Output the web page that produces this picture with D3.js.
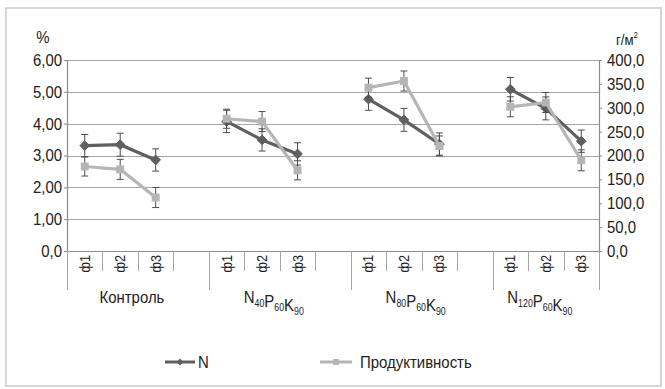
<!DOCTYPE html>
<html>
<head>
<meta charset="utf-8">
<script src="https://cdn.jsdelivr.net/npm/d3@7/dist/d3.min.js"></script>
<style>
  html, body { margin: 0; padding: 0; background: #fff; }
  svg { display: block; }
  text { font-family: "Liberation Sans", Arial, sans-serif; fill: #222; }
</style>
</head>
<body>
<svg id="chart" width="665" height="389"></svg>
<script>
// ---------- data ----------
const groupNames = ["Контроль", "N40P60K90", "N80P60K90", "N120P60K90"];
const groupLabelParts = [
  [["Контроль", ""]],
  [["N", "40"], ["P", "60"], ["K", "90"]],
  [["N", "80"], ["P", "60"], ["K", "90"]],
  [["N", "120"], ["P", "60"], ["K", "90"]]
];
const phaseLabels = ["ф1", "ф2", "ф3"];
const seriesNames = ["N", "Продуктивность"];
const nValues    = [3.31, 3.34, 2.86, 4.07, 3.49, 3.05, 4.77, 4.12, 3.36, 5.08, 4.48, 3.45];
const nErrors    = [0.35, 0.36, 0.35, 0.35, 0.35, 0.35, 0.35, 0.36, 0.35, 0.37, 0.36, 0.35];
const prodValues = [177, 171, 112, 277, 271, 169, 342, 356, 220, 302, 311, 190];
const prodErrors = [20, 21, 21, 20, 21, 20, 20, 21, 21, 21, 21, 22];
const leftTicks  = [0, 1, 2, 3, 4, 5, 6];
const leftTickLabels  = ["0,0", "1,00", "2,00", "3,00", "4,00", "5,00", "6,00"];
const rightTicks = [0, 50, 100, 150, 200, 250, 300, 350, 400];
const rightTickLabels = ["0,0", "50,0", "100,0", "150,0", "200,0", "250,0", "300,0", "350,0", "400,0"];
const leftUnit = "%";
const rightUnit = "г/м";

// ---------- layout ----------
const svg = d3.select("#chart");
const plot = { left: 67, right: 599, top: 60, bottom: 251 };
const darkColor = "#5f5f5f";
const lightColor = "#b5b5b5";
const errColor = "#4d4d4d";
const gridColor = "#a6a6a6";
const SX = 0.88;          // horizontal condensing of text (narrow font look)
const FS = 17;

// condense text horizontally around its anchor x
function condense(sel) {
  sel.each(function () {
    const el = d3.select(this);
    const ax = +(el.attr("x") || 0);
    const prev = el.attr("transform") || "";
    el.attr("transform", `${prev} translate(${ax},0) scale(${SX},1) translate(${-ax},0)`);
  });
}

// slots: 3 phases per group, with an empty slot between groups
const slots = [];
groupNames.forEach((g, gi) => {
  phaseLabels.forEach((p, pi) => slots.push({ key: gi + "-" + pi, group: gi, phase: pi, label: p }));
  if (gi < groupNames.length - 1) slots.push({ key: "gap" + gi, group: gi, phase: -1, label: "" });
});

const x = d3.scaleBand().domain(slots.map(s => s.key)).range([plot.left, plot.right]).paddingInner(0).paddingOuter(0);
const bw = x.bandwidth();
const yL = d3.scaleLinear().domain([0, 6]).range([plot.bottom, plot.top]);
const yR = d3.scaleLinear().domain([0, 400]).range([plot.bottom, plot.top]);

// outer frame
svg.append("rect").attr("x", 6).attr("y", 8).attr("width", 655).attr("height", 378)
  .attr("fill", "#fff").attr("stroke", "#d6d6d6").attr("stroke-width", 2);

// gridlines
svg.append("g").selectAll("line").data(leftTicks.filter(t => t > 0)).join("line")
  .attr("x1", plot.left).attr("x2", plot.right)
  .attr("y1", d => Math.round(yL(d)) + 0.5).attr("y2", d => Math.round(yL(d)) + 0.5)
  .attr("stroke", gridColor).attr("stroke-width", 1.2);

// left axis
const leftAxis = d3.axisLeft(yL).tickValues(leftTicks).tickSize(3).tickPadding(2)
  .tickFormat((d, i) => leftTickLabels[i]);
const gL = svg.append("g").attr("transform", `translate(${plot.left},0)`).call(leftAxis);
gL.select(".domain").attr("stroke", "#8c8c8c").attr("stroke-width", 1.2);
gL.selectAll(".tick line").attr("stroke", "#8c8c8c");
gL.selectAll(".tick text").attr("font-size", FS).attr("fill", "#222")
  .attr("font-family", '"Liberation Sans", Arial, sans-serif').call(condense);

// right axis
const rightAxis = d3.axisRight(yR).tickValues(rightTicks).tickSize(3).tickPadding(5)
  .tickFormat((d, i) => rightTickLabels[i]);
const gR = svg.append("g").attr("transform", `translate(${plot.right},0)`).call(rightAxis);
gR.select(".domain").attr("stroke", "#8c8c8c").attr("stroke-width", 1.2);
gR.selectAll(".tick line").attr("stroke", "#8c8c8c");
gR.selectAll(".tick text").attr("font-size", FS).attr("fill", "#222")
  .attr("font-family", '"Liberation Sans", Arial, sans-serif').call(condense);

// bottom axis line
svg.append("line").attr("x1", plot.left).attr("x2", plot.right)
  .attr("y1", plot.bottom + 0.5).attr("y2", plot.bottom + 0.5)
  .attr("stroke", "#8c8c8c").attr("stroke-width", 1.2);

// unit labels
svg.append("text").attr("x", 43).attr("y", 43).attr("text-anchor", "middle")
  .attr("font-size", FS).text(leftUnit).call(condense);
const ru = svg.append("text").attr("x", 616).attr("y", 45).attr("font-size", 15).text(rightUnit);
ru.append("tspan").attr("dy", -7).attr("font-size", 9).text("2");
ru.call(condense);

// category ticks
const boundaries = slots.map(s => x(s.key)).concat([plot.right]);
const groupStarts = new Set();
slots.forEach((s, i) => { if (i === 0 || slots[i - 1].group !== s.group) groupStarts.add(i); });
svg.append("g").selectAll("line").data(boundaries).join("line")
  .attr("x1", d => Math.round(d) + 0.5).attr("x2", d => Math.round(d) + 0.5)
  .attr("y1", plot.bottom)
  .attr("y2", (d, i) => (groupStarts.has(i) || i === boundaries.length - 1) ? 290 : 271)
  .attr("stroke", "#a6a6a6").attr("stroke-width", 1);

// phase labels (rotated)
svg.append("g").selectAll("text").data(slots.filter(s => s.label)).join("text")
  .attr("transform", s => `translate(${x(s.key) + bw / 2 + 5},255) rotate(-90)`)
  .attr("text-anchor", "end").attr("font-size", 14.5).text(s => s.label).call(condense);

// group labels
groupLabelParts.forEach((parts, gi) => {
  const gs = slots.filter(s => s.group === gi);
  const x0 = x(gs[0].key), x1 = x(gs[gs.length - 1].key) + bw;
  const t = svg.append("text").attr("x", (x0 + x1) / 2 - 6).attr("y", 303)
    .attr("text-anchor", "middle").attr("font-size", FS);
  parts.forEach(([main, sub]) => {
    t.append("tspan").attr("font-size", FS).text(main);
    if (sub) {
      t.append("tspan").attr("font-size", 10).attr("dy", 4).text(sub);
      t.append("tspan").attr("font-size", FS).attr("dy", -4).text("");
    }
  });
  t.call(condense);
});

// series drawing
const cx = i => {
  const gi = Math.floor(i / 3), pi = i % 3;
  return x(gi + "-" + pi) + bw / 2;
};
const idx = d3.range(nValues.length);

function drawSeries(values, errors, yScale, color, marker) {
  const g = svg.append("g");
  groupNames.forEach((_, gi) => {
    const ids = [gi * 3, gi * 3 + 1, gi * 3 + 2];
    g.append("path").datum(ids)
      .attr("d", d3.line().x(i => cx(i)).y(i => yScale(values[i])))
      .attr("fill", "none").attr("stroke", color).attr("stroke-width", 3.2)
      .attr("stroke-linejoin", "round");
  });
  const eg = g.append("g").attr("stroke", errColor).attr("stroke-width", 1);
  idx.forEach(i => {
    const xc = cx(i), yt = yScale(values[i] + errors[i]), yb = yScale(values[i] - errors[i]);
    eg.append("line").attr("x1", xc).attr("x2", xc).attr("y1", yt).attr("y2", yb);
    eg.append("line").attr("x1", xc - 3.5).attr("x2", xc + 3.5).attr("y1", yt).attr("y2", yt);
    eg.append("line").attr("x1", xc - 3.5).attr("x2", xc + 3.5).attr("y1", yb).attr("y2", yb);
  });
  g.selectAll("path.m").data(idx).join("path").attr("class", "m")
    .attr("transform", i => `translate(${cx(i)},${yScale(values[i])})`)
    .attr("d", d3.symbol().type(marker === "diamond" ? d3.symbolDiamond2 : d3.symbolSquare2).size(marker === "diamond" ? 60 : 80))
    .attr("fill", color).attr("stroke", color).attr("stroke-width", marker === "diamond" ? 1 : 0);
}
drawSeries(nValues, nErrors, yL, darkColor, "diamond");
drawSeries(prodValues, prodErrors, yR, lightColor, "square");

// legend
const legend = [
  { name: seriesNames[0], color: darkColor, marker: "diamond", x: 165, w: 30, tx: 198 },
  { name: seriesNames[1], color: lightColor, marker: "square", x: 320, w: 32, tx: 360 }
];
const ly = 362;
legend.forEach(l => {
  svg.append("line").attr("x1", l.x).attr("x2", l.x + l.w).attr("y1", ly).attr("y2", ly)
    .attr("stroke", l.color).attr("stroke-width", 3);
  svg.append("path").attr("transform", `translate(${l.x + l.w / 2},${ly})`)
    .attr("d", d3.symbol().type(l.marker === "diamond" ? d3.symbolDiamond2 : d3.symbolSquare2).size(l.marker === "diamond" ? 30 : 45))
    .attr("fill", l.color);
  svg.append("text").attr("x", l.tx).attr("y", ly + 6).attr("font-size", FS).text(l.name).call(condense);
});
</script>
</body>
</html>
